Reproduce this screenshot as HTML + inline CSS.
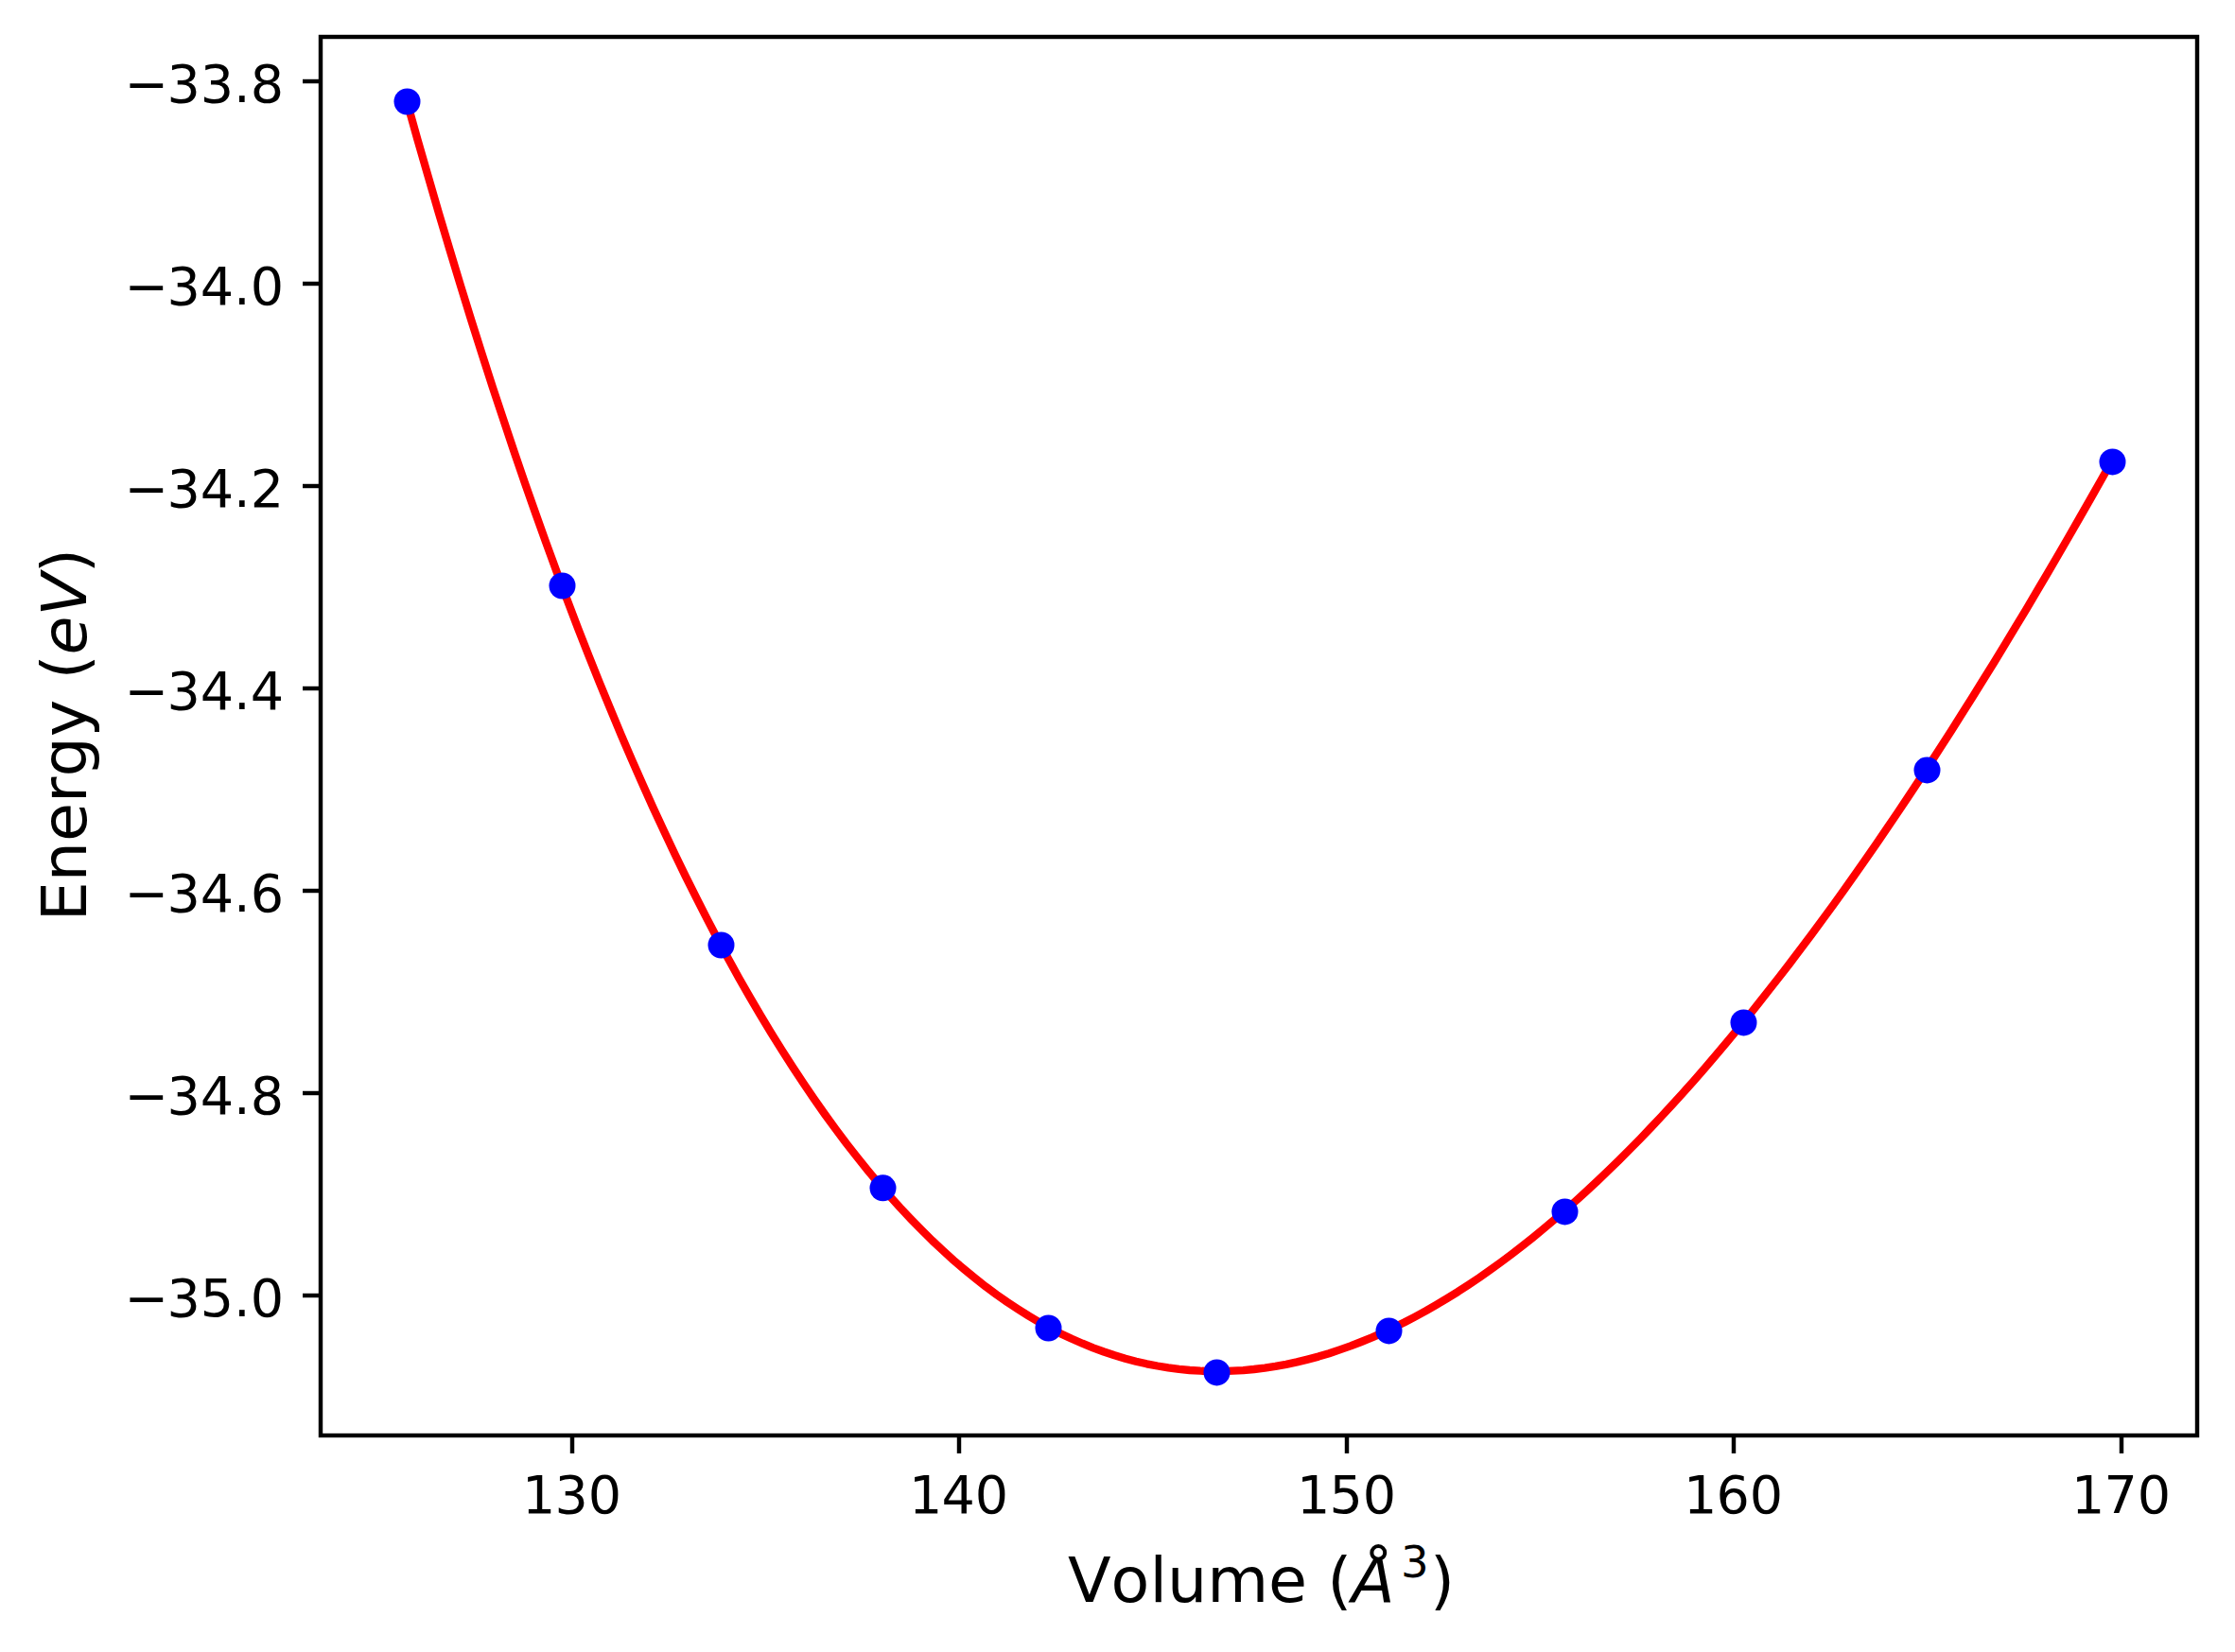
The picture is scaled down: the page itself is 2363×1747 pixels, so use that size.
<!DOCTYPE html>
<html lang="en"><head><meta charset="utf-8"><title>Energy vs Volume</title>
<style>
html,body{margin:0;padding:0;background:#fff;}
body{width:2363px;height:1747px;overflow:hidden;}
svg{display:block;}
text{font-family:"DejaVu Sans","Liberation Sans",sans-serif;fill:#000;font-kerning:none;}
.tk{font-size:55.56px;}
.lb{font-size:66.67px;}
.it{font-style:italic;}
</style></head><body>
<svg width="2363" height="1747" viewBox="0 0 2363 1747">
<rect x="0" y="0" width="2363" height="1747" fill="#ffffff"/>
<path d="M430.0 106.7 L441.3 147.1 L452.7 186.7 L464.0 225.6 L475.4 263.7 L486.7 301.1 L498.0 337.8 L509.4 373.7 L520.7 408.9 L532.1 443.3 L543.4 477.1 L554.7 510.1 L566.1 542.5 L577.4 574.2 L588.8 605.2 L600.1 635.5 L611.4 665.2 L622.8 694.2 L634.1 722.5 L645.5 750.2 L656.8 777.3 L668.1 803.7 L679.5 829.5 L690.8 854.7 L702.2 879.3 L713.5 903.2 L724.8 926.6 L736.2 949.4 L747.5 971.6 L758.8 993.2 L770.2 1014.2 L781.5 1034.7 L792.9 1054.6 L804.2 1073.9 L815.5 1092.7 L826.9 1110.9 L838.2 1128.6 L849.6 1145.8 L860.9 1162.4 L872.2 1178.5 L883.6 1194.1 L894.9 1209.2 L906.3 1223.7 L917.6 1237.8 L928.9 1251.4 L940.3 1264.4 L951.6 1277.0 L963.0 1289.1 L974.3 1300.7 L985.6 1311.9 L997.0 1322.5 L1008.3 1332.8 L1019.7 1342.5 L1031.0 1351.8 L1042.3 1360.7 L1053.7 1369.1 L1065.0 1377.0 L1076.4 1384.5 L1087.7 1391.6 L1099.0 1398.3 L1110.4 1404.5 L1121.7 1410.4 L1133.1 1415.8 L1144.4 1420.7 L1155.7 1425.3 L1167.1 1429.5 L1178.4 1433.3 L1189.8 1436.7 L1201.1 1439.7 L1212.4 1442.3 L1223.8 1444.5 L1235.1 1446.4 L1246.5 1447.9 L1257.8 1449.0 L1269.1 1449.7 L1280.5 1450.1 L1291.8 1450.1 L1303.2 1449.7 L1314.5 1449.1 L1325.8 1448.0 L1337.2 1446.6 L1348.5 1444.9 L1359.8 1442.8 L1371.2 1440.4 L1382.5 1437.6 L1393.9 1434.6 L1405.2 1431.2 L1416.5 1427.4 L1427.9 1423.4 L1439.2 1419.0 L1450.6 1414.4 L1461.9 1409.4 L1473.2 1404.1 L1484.6 1398.5 L1495.9 1392.6 L1507.3 1386.4 L1518.6 1379.9 L1529.9 1373.1 L1541.3 1366.1 L1552.6 1358.7 L1564.0 1351.1 L1575.3 1343.2 L1586.6 1335.0 L1598.0 1326.5 L1609.3 1317.7 L1620.7 1308.7 L1632.0 1299.4 L1643.3 1289.9 L1654.7 1280.1 L1666.0 1270.0 L1677.4 1259.7 L1688.7 1249.1 L1700.0 1238.3 L1711.4 1227.2 L1722.7 1215.9 L1734.1 1204.3 L1745.4 1192.5 L1756.7 1180.5 L1768.1 1168.2 L1779.4 1155.7 L1790.8 1142.9 L1802.1 1129.9 L1813.4 1116.7 L1824.8 1103.3 L1836.1 1089.6 L1847.5 1075.8 L1858.8 1061.7 L1870.1 1047.3 L1881.5 1032.8 L1892.8 1018.1 L1904.2 1003.1 L1915.5 988.0 L1926.8 972.6 L1938.2 957.1 L1949.5 941.3 L1960.8 925.3 L1972.2 909.2 L1983.5 892.8 L1994.9 876.2 L2006.2 859.5 L2017.5 842.6 L2028.9 825.4 L2040.2 808.1 L2051.6 790.6 L2062.9 772.9 L2074.2 755.1 L2085.6 737.1 L2096.9 718.8 L2108.3 700.5 L2119.6 681.9 L2130.9 663.2 L2142.3 644.3 L2153.6 625.2 L2165.0 605.9 L2176.3 586.5 L2187.6 567.0 L2199.0 547.2 L2210.3 527.4 L2221.7 507.3 L2233.0 487.1" fill="none" stroke="#ff0000" stroke-width="8.33" stroke-linecap="square" stroke-linejoin="round"/>
<circle cx="430.5" cy="107.5" r="14" fill="#0000ff"/>
<circle cx="594.5" cy="619.5" r="14" fill="#0000ff"/>
<circle cx="762.5" cy="999.5" r="14" fill="#0000ff"/>
<circle cx="933.5" cy="1256.3" r="14" fill="#0000ff"/>
<circle cx="1108.5" cy="1404.5" r="14" fill="#0000ff"/>
<circle cx="1286.5" cy="1451.4" r="14" fill="#0000ff"/>
<circle cx="1468.5" cy="1407.4" r="14" fill="#0000ff"/>
<circle cx="1654.5" cy="1281.4" r="14" fill="#0000ff"/>
<circle cx="1843.5" cy="1081.4" r="14" fill="#0000ff"/>
<circle cx="2037.5" cy="814.4" r="14" fill="#0000ff"/>
<circle cx="2233.5" cy="488.4" r="14" fill="#0000ff"/>
<line x1="605" y1="1518.0" x2="605" y2="1537" stroke="#000" stroke-width="4.44"/>
<text class="tk" x="551.97 586.42 621.87" y="1600.3">130</text>
<line x1="1014" y1="1518.0" x2="1014" y2="1537" stroke="#000" stroke-width="4.44"/>
<text class="tk" x="960.97 995.42 1030.87" y="1600.3">140</text>
<line x1="1424" y1="1518.0" x2="1424" y2="1537" stroke="#000" stroke-width="4.44"/>
<text class="tk" x="1370.97 1405.42 1440.87" y="1600.3">150</text>
<line x1="1833" y1="1518.0" x2="1833" y2="1537" stroke="#000" stroke-width="4.44"/>
<text class="tk" x="1779.97 1814.42 1849.87" y="1600.3">160</text>
<line x1="2243" y1="1518.0" x2="2243" y2="1537" stroke="#000" stroke-width="4.44"/>
<text class="tk" x="2189.97 2224.42 2259.87" y="1600.3">170</text>
<line x1="320" y1="86.0" x2="339.0" y2="86.0" stroke="#000" stroke-width="4.44"/>
<text class="tk" x="131.4" y="107.5">−<tspan dx="-1.5">33.8</tspan></text>
<line x1="320" y1="300.0" x2="339.0" y2="300.0" stroke="#000" stroke-width="4.44"/>
<text class="tk" x="131.4" y="321.5">−<tspan dx="-1.5">34.0</tspan></text>
<line x1="320" y1="514.0" x2="339.0" y2="514.0" stroke="#000" stroke-width="4.44"/>
<text class="tk" x="131.4" y="535.5">−<tspan dx="-1.5">34.2</tspan></text>
<line x1="320" y1="728.0" x2="339.0" y2="728.0" stroke="#000" stroke-width="4.44"/>
<text class="tk" x="131.4" y="749.5">−<tspan dx="-1.5">34.4</tspan></text>
<line x1="320" y1="942.0" x2="339.0" y2="942.0" stroke="#000" stroke-width="4.44"/>
<text class="tk" x="131.4" y="963.5">−<tspan dx="-1.5">34.6</tspan></text>
<line x1="320" y1="1156.0" x2="339.0" y2="1156.0" stroke="#000" stroke-width="4.44"/>
<text class="tk" x="131.4" y="1177.5">−<tspan dx="-1.5">34.8</tspan></text>
<line x1="320" y1="1370.0" x2="339.0" y2="1370.0" stroke="#000" stroke-width="4.44"/>
<text class="tk" x="131.4" y="1391.5">−<tspan dx="-1.5">35.0</tspan></text>
<rect x="339.0" y="39.0" width="1984.0" height="1479.0" fill="none" stroke="#000" stroke-width="4.44" stroke-linejoin="miter"/>
<text class="lb" x="1129" y="1693.7">Volume (<tspan class="it" x="1429">Å</tspan><tspan x="1481" y="1668.2" style="font-size:46.67px">3</tspan><tspan x="1512" y="1693.7">)</tspan></text>
<g transform="translate(90.5,974.3) rotate(-90)"><text class="lb" x="0" y="0">Energy (<tspan class="it">eV</tspan>)</text></g>
</svg></body></html>
